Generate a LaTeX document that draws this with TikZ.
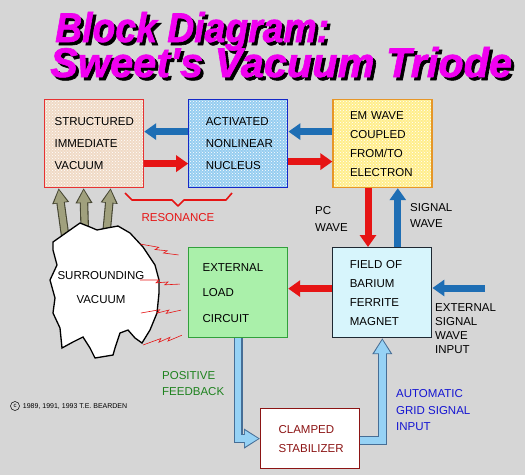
\documentclass[tikz,border=0pt]{standalone}
\usepackage{fontspec}
\setmainfont{Liberation Sans}
\newfontfamily\ttlfont{Liberation Sans Bold Italic}[FakeBold=1.5]
\usepackage{xcolor}
\usetikzlibrary{arrows.meta,patterns,positioning,calc}

\definecolor{bgray}{RGB}{214,214,214}
\definecolor{ttlmag}{RGB}{240,0,240}
\definecolor{sivred}{RGB}{230,50,50}
\definecolor{sivfill}{RGB}{240,218,198}
\definecolor{annblue}{RGB}{20,40,200}
\definecolor{annfill}{RGB}{150,205,240}
\definecolor{emorange}{RGB}{230,150,40}
\definecolor{emfill}{RGB}{255,238,140}
\definecolor{loadgreen}{RGB}{50,160,60}
\definecolor{loadfill}{RGB}{170,240,170}
\definecolor{ferline}{RGB}{30,40,50}
\definecolor{ferfill}{RGB}{215,245,252}
\definecolor{stabred}{RGB}{140,20,20}
\definecolor{wred}{RGB}{230,20,20}
\definecolor{wblue}{RGB}{30,110,180}
\definecolor{fbblue}{RGB}{150,210,245}
\definecolor{fbline}{RGB}{70,110,150}
\definecolor{khaki}{RGB}{160,160,125}
\definecolor{khline}{RGB}{70,70,50}
\definecolor{posgreen}{RGB}{30,130,30}
\definecolor{agsblue}{RGB}{20,20,210}

\begin{document}
\begin{tikzpicture}[x=1pt,y=-1pt,
  lbl/.style={font=\fontsize{11.5}{14}\selectfont, inner sep=0pt},
  blk/.style={lbl, draw, line width=1.2pt, minimum width=99pt, align=left, anchor=north west},
  hatch/.style={pattern=crosshatch dots, pattern color=white},
  ttl/.style={font=\ttlfont\fontsize{41.5}{41.5}\selectfont, inner sep=0pt, anchor=base west},
  fat/.style={line width=7pt, -{Triangle[length=12pt,width=16pt]}},
  redar/.style={fat, draw=wred},
  bluar/.style={fat, draw=wblue},
  fbo/.style={line width=9pt, draw=fbline, -{Triangle[length=16pt,width=19pt]}},
  fbi/.style={line width=6.6pt, draw=fbblue, shorten >=1.7pt, -{Triangle[length=13.5pt,width=15.5pt]}},
  kho/.style={line width=8.5pt, draw=khline, -{Triangle[length=15pt,width=16pt]}},
  khi/.style={line width=6.3pt, draw=khaki, shorten >=1.7pt, -{Triangle[length=12.5pt,width=12.5pt]}},
  spk/.style={draw=wred, line width=0.6pt}]

  \path[use as bounding box, fill=bgray] (0,0) rectangle (525,475);

  % title with shadow
  \node[ttl, black] (ttlAs) at (58,45) {\scalebox{0.9}[1]{Block Diagram:}};
  \node[ttl, ttlmag] (ttlA) at (55,42) {\scalebox{0.9}[1]{Block Diagram:}};
  \node[ttl, black] (ttlBs) at (53,80) {Sweet's Vacuum Triode};
  \node[ttl, ttlmag] (ttlB) at (50,77) {Sweet's Vacuum Triode};

  % top row
  \node[blk, draw=sivred, preaction={fill=sivfill}, hatch, inner xsep=10pt, text width=79pt, minimum height=88pt]
    (siv) at (44,99) {STRUCTURED\\[8pt]IMMEDIATE\\[8pt]VACUUM};
  \node[blk, draw=annblue, preaction={fill=annfill}, hatch, inner xsep=17pt, text width=65pt, minimum height=88pt,
    right=44pt of siv] (ann) {ACTIVATED\\[8pt]NONLINEAR\\[8pt]NUCLEUS};
  \node[blk, draw=emorange, preaction={fill=emfill}, hatch, inner xsep=17pt, text width=65pt, minimum height=88pt,
    right=44pt of ann] (em) {EM WAVE\\[5pt]COUPLED\\[5pt]FROM/TO\\[5pt]ELECTRON};

  % middle row
  \node[blk, draw=loadgreen, fill=loadfill, inner xsep=14pt, text width=71pt, minimum height=90pt]
    (load) at (188,247) {EXTERNAL\\[11.5pt]LOAD\\[11.5pt]CIRCUIT};
  \node[blk, draw=ferline, fill=ferfill, inner xsep=17pt, text width=65pt, minimum height=90pt,
    right=44pt of load] (fer) {FIELD OF\\[5pt]BARIUM\\[5pt]FERRITE\\[5pt]MAGNET};

  % bottom
  \node[blk, draw=stabred, fill=white, text=stabred, inner xsep=18pt, text width=63pt, minimum height=60pt]
    (stab) at (260,408) {CLAMPED\\[5pt]STABILIZER};

  % wave arrows
  \draw[bluar] ([yshift=12pt]ann.west) -- ([yshift=12pt]siv.east);
  \draw[redar] ([yshift=-20pt]siv.east) -- ([yshift=-20pt]ann.west);
  \draw[bluar] ([yshift=12pt]em.west) -- ([yshift=12pt]ann.west -| ann.east);
  \draw[redar] ([yshift=-18pt]ann.east) -- ([yshift=-18pt]em.west);
  \draw[redar] ([xshift=-14.5pt]em.south) -- ([xshift=-14.5pt]em.south |- fer.north);
  \draw[bluar] ([xshift=15.5pt]fer.north) -- ([xshift=15.5pt]fer.north |- em.south);
  \draw[redar] ([yshift=4pt]fer.west) -- ([yshift=4pt]load.east);
  \coordinate (extin) at (485,288);
  \draw[bluar] (extin) -- (extin -| fer.east);

  % feedback loop
  \draw[fbo] (load.south) -- (load.south |- stab.west) -- (stab.west);
  \draw[fbi] (load.south) -- (load.south |- stab.west) -- (stab.west);
  \draw[fbo] ([yshift=-2pt]stab.east) -- ([yshift=-2pt]stab.east -| fer.south) -- (fer.south);
  \draw[fbi] ([yshift=-2pt]stab.east) -- ([yshift=-2pt]stab.east -| fer.south) -- (fer.south);

  % surrounding vacuum
  \coordinate (kA) at (66,242);
  \coordinate (kB) at (85,238);
  \coordinate (kC) at (106,238);
  \foreach \k/\dx in {kA/-35.5, kB/-10.5, kC/16.5} {
    \draw[kho] (\k) -- ([xshift=\dx pt]siv.south);
    \draw[khi] (\k) -- ([xshift=\dx pt]siv.south);
  }
  \draw[fill=white, line width=1.3pt, line join=miter]
    (53,242) -- (70,230) -- (80,223) -- (90,227) -- (97,230) -- (107,228) -- (118,226)
    -- (130,233) -- (143,247) -- (155,265) -- (159,280) -- (159,293) -- (157,313)
    -- (150,330) -- (142,343) -- (135,338) -- (128,330) -- (120,333) -- (115,348)
    -- (113,355) -- (95,358) -- (90,348) -- (83,337) -- (73,342) -- (62,348)
    -- (60,328) -- (53,313) -- (55,298) -- (50,280) -- (57,265) -- (53,250) -- cycle;
  \node[lbl, align=center] (sv) at (101,288) {SURROUNDING\\[10pt]VACUUM};
  \foreach \sx/\sy/\ang in {140/244/-13, 140/280/-3, 141/313/7, 143/345/17}
    \draw[spk, shift={(\sx,\sy)}, rotate=\ang]
      (0,0) -- (19,-1) -- (16,2) -- (28,0.5) -- (25,3.5) -- (40,2);

  % resonance brace
  \draw[wred, line width=1.6pt, line join=round]
    (125,193) -- (132,200) -- (172,200) -- (178,206) -- (184,200) -- (226,200) -- (232,193);
  \node[lbl, text=wred] (res) at (178,218) {RESONANCE};

  % labels
  \node[lbl, align=left, anchor=west] (pcw) at (315,218.5) {PC\\[3pt]WAVE};
  \node[lbl, align=left, anchor=west] (sgw) at (410,215) {SIGNAL\\[2pt]WAVE};
  \node[lbl, align=left, anchor=west] (esw) at (435,329) {EXTERNAL\\SIGNAL\\WAVE\\INPUT};
  \node[lbl, align=left, anchor=west, text=posgreen] (pfb) at (162,384) {POSITIVE\\[2pt]FEEDBACK};
  \node[lbl, align=left, anchor=west, text=agsblue] (ags) at (396,410.5) {AUTOMATIC\\[2.5pt]GRID SIGNAL\\[2.5pt]INPUT};

  % copyright
  \node[circle, draw, line width=0.5pt, minimum size=9pt, inner sep=0pt, font=\fontsize{6}{6}\selectfont] (cc) at (15,406) {c};
  \node[right=3pt of cc, inner sep=0pt, font=\fontsize{7}{8}\selectfont] (cpy) {1989, 1991, 1993 T.E. BEARDEN};
\end{tikzpicture}
\end{document}
